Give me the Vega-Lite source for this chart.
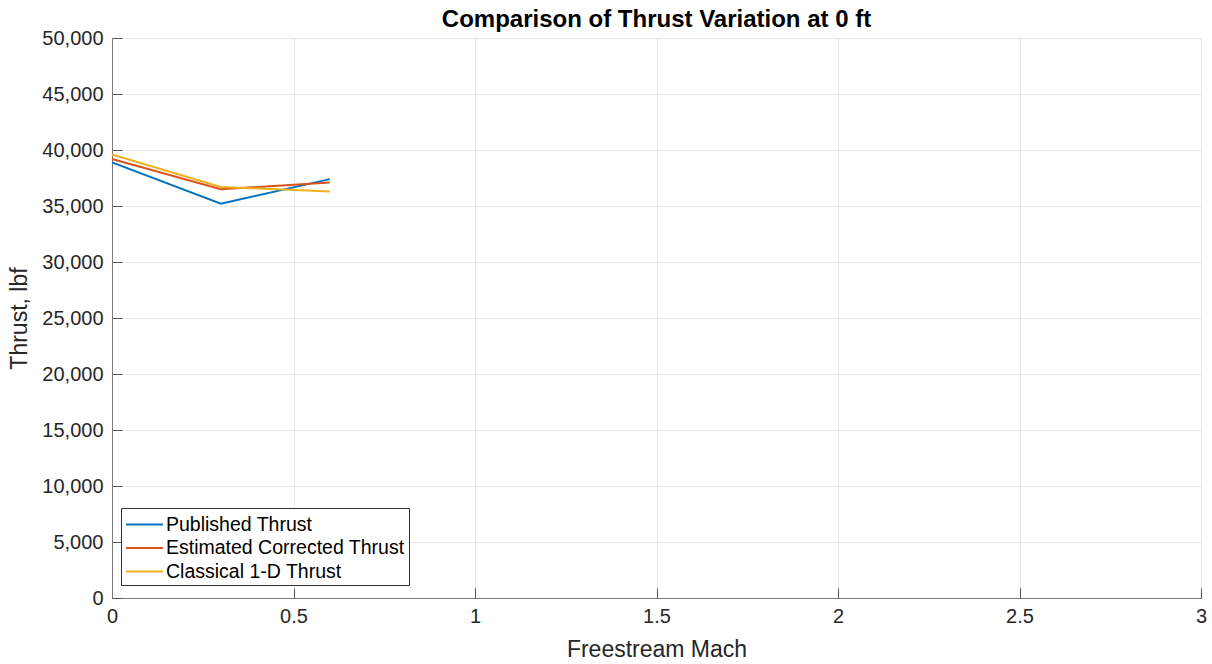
{
  "$schema": "https://vega.github.io/schema/vega-lite/v6.json",
  "width": 1089,
  "height": 560,
  "autosize": {"type": "none"},
  "padding": {"left": 112, "top": 38, "right": 11, "bottom": 66},
  "background": "white",
  "config": {
    "font": "Liberation Sans",
    "view": {"stroke": "#7a7a7a", "strokeWidth": 1}
  },
  "title": {
    "text": "Comparison of Thrust Variation at 0 ft",
    "fontSize": 24,
    "fontWeight": "bold",
    "color": "#000000",
    "anchor": "middle",
    "offset": -4
  },
  "data": {
    "values": [
      {"mach": 0, "thrust": 38900, "series": "Published Thrust"},
      {"mach": 0.3, "thrust": 35200, "series": "Published Thrust"},
      {"mach": 0.6, "thrust": 37400, "series": "Published Thrust"},
      {"mach": 0, "thrust": 39200, "series": "Estimated Corrected Thrust"},
      {"mach": 0.3, "thrust": 36500, "series": "Estimated Corrected Thrust"},
      {"mach": 0.6, "thrust": 37100, "series": "Estimated Corrected Thrust"},
      {"mach": 0, "thrust": 39600, "series": "Classical 1-D Thrust"},
      {"mach": 0.3, "thrust": 36700, "series": "Classical 1-D Thrust"},
      {"mach": 0.6, "thrust": 36300, "series": "Classical 1-D Thrust"}
    ]
  },
  "mark": {"type": "line", "strokeWidth": 2},
  "encoding": {
    "x": {
      "field": "mach",
      "type": "quantitative",
      "scale": {"domain": [0, 3], "nice": false},
      "axis": {
        "title": "Freestream Mach",
        "titleFontSize": 23,
        "titleFontWeight": "normal",
        "titleColor": "#262626",
        "titlePadding": 12,
        "values": [0, 0.5, 1, 1.5, 2, 2.5, 3],
        "format": "~g",
        "labelFontSize": 20,
        "labelColor": "#262626",
        "labelPadding": 18,
        "tickSize": -10,
        "tickColor": "#555555",
        "domainColor": "#7a7a7a",
        "gridColor": "#e6e6e6",
        "labelFlush": false
      }
    },
    "y": {
      "field": "thrust",
      "type": "quantitative",
      "scale": {"domain": [0, 50000], "nice": false},
      "axis": {
        "title": "Thrust, lbf",
        "titleFontSize": 23,
        "titleFontWeight": "normal",
        "titleColor": "#262626",
        "titlePadding": 10,
        "values": [0, 5000, 10000, 15000, 20000, 25000, 30000, 35000, 40000, 45000, 50000],
        "format": ",d",
        "labelFontSize": 20,
        "labelColor": "#262626",
        "labelPadding": 19,
        "tickSize": -10,
        "tickColor": "#555555",
        "domainColor": "#7a7a7a",
        "gridColor": "#e6e6e6",
        "labelFlush": false
      }
    },
    "color": {
      "field": "series",
      "type": "nominal",
      "scale": {
        "domain": ["Published Thrust", "Estimated Corrected Thrust", "Classical 1-D Thrust"],
        "range": ["#0072BD", "#D95319", "#EDB120"]
      },
      "legend": {
        "title": null,
        "orient": "none",
        "legendX": 9,
        "legendY": 470,
        "symbolType": "M-1.6,0H1.6",
        "symbolSize": 529,
        "symbolStrokeWidth": 2,
        "symbolOffset": 7,
        "labelFontSize": 19.5,
        "labelOffset": 9,
        "labelColor": "#000000",
        "labelLimit": 400,
        "rowPadding": 1.5,
        "padding": 4,
        "strokeColor": "#333333",
        "fillColor": "white"
      }
    }
  }
}
